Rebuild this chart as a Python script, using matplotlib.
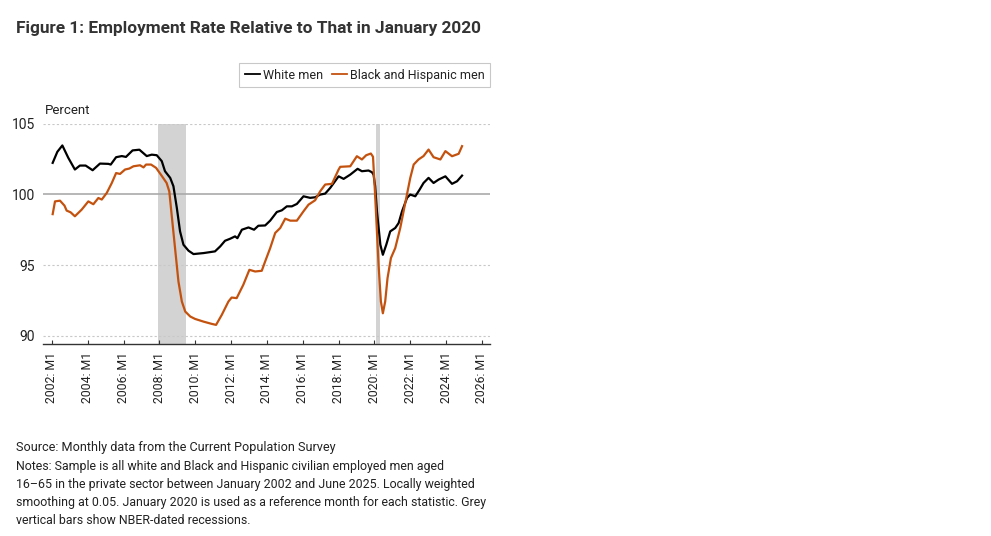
import matplotlib
matplotlib.use("Agg")
import matplotlib.pyplot as plt
from matplotlib.lines import Line2D

# ---------------- data ----------------
white_t = [2002.04, 2002.30, 2002.58, 2002.91, 2003.28, 2003.56, 2003.88, 2004.27, 2004.68,
           2005.15, 2005.28, 2005.58, 2005.90, 2006.13, 2006.50, 2006.88, 2007.29, 2007.57,
           2007.85, 2008.13, 2008.31, 2008.60, 2008.78, 2008.97, 2009.15, 2009.34, 2009.62,
           2009.90, 2010.46, 2011.10, 2011.39, 2011.66, 2011.94, 2012.22, 2012.35, 2012.60,
           2012.97, 2013.28, 2013.52, 2013.90, 2014.18, 2014.55, 2014.83, 2015.11, 2015.39,
           2015.67, 2016.04, 2016.41, 2016.69, 2016.97, 2017.25, 2017.53, 2018.00, 2018.28,
           2018.65, 2019.06, 2019.30, 2019.67, 2019.86, 2019.95, 2020.04, 2020.14, 2020.33,
           2020.47, 2020.66, 2020.88, 2021.16, 2021.35, 2021.54, 2021.82, 2022.00, 2022.28,
           2022.52, 2022.74, 2023.02, 2023.30, 2023.58, 2023.96, 2024.33, 2024.61, 2024.89]
white_v = [102.22, 103.00, 103.45, 102.58, 101.75, 102.03, 102.03, 101.70, 102.17,
           102.15, 102.10, 102.62, 102.70, 102.64, 103.10, 103.15, 102.70, 102.80,
           102.76, 102.34, 101.63, 101.16, 100.57, 99.04, 97.38, 96.44, 96.02,
           95.78, 95.85, 95.97, 96.32, 96.72, 96.86, 97.03, 96.90, 97.50,
           97.66, 97.50, 97.78, 97.80, 98.14, 98.75, 98.87, 99.15, 99.15,
           99.32, 99.86, 99.75, 99.79, 99.98, 100.05, 100.45, 101.27, 101.09,
           101.39, 101.80, 101.63, 101.68, 101.56, 101.39, 100.57, 98.80, 96.44,
           95.73, 96.44, 97.38, 97.62, 97.97, 98.80, 99.75, 99.98, 99.86,
           100.33, 100.80, 101.16, 100.80, 101.04, 101.27, 100.74, 100.92, 101.32]

bh_t = [2002.04, 2002.17, 2002.45, 2002.70, 2002.82, 2003.04, 2003.28, 2003.66, 2004.03,
        2004.31, 2004.59, 2004.78, 2005.06, 2005.34, 2005.58, 2005.80, 2006.08, 2006.32,
        2006.55, 2006.92, 2007.11, 2007.25, 2007.53, 2007.81, 2008.13, 2008.40, 2008.55,
        2008.68, 2008.87, 2009.06, 2009.25, 2009.44, 2009.72, 2009.99, 2010.46, 2010.92,
        2011.16, 2011.48, 2011.85, 2012.03, 2012.31, 2012.68, 2013.02, 2013.34, 2013.71,
        2013.90, 2014.18, 2014.46, 2014.74, 2015.02, 2015.30, 2015.67, 2016.04, 2016.32,
        2016.69, 2016.97, 2017.25, 2017.63, 2018.00, 2018.09, 2018.65, 2019.02, 2019.30,
        2019.54, 2019.80, 2019.92, 2020.04, 2020.23, 2020.36, 2020.47, 2020.60, 2020.73,
        2020.92, 2021.16, 2021.44, 2021.72, 2022.00, 2022.19, 2022.46, 2022.74, 2023.02,
        2023.30, 2023.68, 2023.96, 2024.33, 2024.70, 2024.89]
bh_v = [98.60, 99.50, 99.55, 99.20, 98.85, 98.73, 98.45, 98.92, 99.50,
        99.30, 99.74, 99.63, 100.10, 100.80, 101.50, 101.44, 101.75, 101.82,
        101.98, 102.05, 101.90, 102.10, 102.10, 101.87, 101.30, 100.80, 100.20,
        98.56, 96.20, 93.84, 92.43, 91.72, 91.37, 91.20, 91.01, 90.85,
        90.78, 91.49, 92.43, 92.71, 92.67, 93.61, 94.67, 94.55, 94.60,
        95.26, 96.20, 97.27, 97.62, 98.28, 98.14, 98.14, 98.80, 99.27,
        99.58, 100.21, 100.69, 100.74, 101.75, 101.94, 101.98, 102.69, 102.46,
        102.76, 102.88, 102.65, 99.90, 95.02, 92.43, 91.60, 92.43, 94.08,
        95.50, 96.20, 97.62, 99.39, 101.16, 102.10, 102.46, 102.70, 103.16,
        102.62, 102.46, 103.05, 102.69, 102.86, 103.40]

recessions = [(2007.92, 2009.50), (2020.08, 2020.33)]
tick_years = list(range(2002, 2027, 2))
tick_labels = [f"{y}: M1" for y in tick_years]
y_ticks = [90, 95, 100, 105]

# ---------------- style ----------------
FONT = ["Roboto", "DejaVu Sans"]
plt.rcParams["font.family"] = FONT
TXT = "#222222"
ORANGE = "#C4520F"

fig = plt.figure(figsize=(9.91, 5.36), dpi=100)
ax = fig.add_axes([43 / 991, 1 - 344 / 536, (490 - 43) / 991, (344 - 123.5) / 536])

for a, b in recessions:
    ax.axvspan(a, b, color="#d3d3d3", lw=0, zorder=0)

for yv in [90, 95, 105]:
    ax.axhline(yv, color="#c8c8c8", lw=0.8, ls=(0, (2, 2)), zorder=1)
ax.axhline(100, color="#aaaaaa", lw=1.2, zorder=1)

ax.plot(white_t, white_v, color="black", lw=1.6, zorder=3)
ax.plot(bh_t, bh_v, color=ORANGE, lw=1.6, zorder=3)

ax.set_xlim(2001.5, 2026.45)
ax.set_ylim(89.43, 105)
ax.set_xticks(tick_years)
ax.set_xticklabels(tick_labels, rotation=90, fontsize=8.8, color=TXT)
ax.set_yticks(y_ticks)
ax.set_yticklabels([str(v) for v in y_ticks], fontsize=10, color=TXT)
ax.tick_params(axis="x", direction="in", length=3, width=0.8, color="#333333", pad=6)
ax.tick_params(axis="y", length=0, pad=6)
for s in ["top", "right", "left"]:
    ax.spines[s].set_visible(False)
ax.spines["bottom"].set_color("#333333")
ax.spines["bottom"].set_linewidth(1.0)

fig.text(45 / 991, 1 - 110 / 536, "Percent", fontsize=9.5, color=TXT, va="center", ha="left")

fig.text(16 / 991, 1 - 28 / 536, "Figure 1: Employment Rate Relative to That in January 2020",
         fontsize=12.4, color="#333333", va="center", ha="left", fontweight="bold")

handles = [Line2D([], [], color="black", lw=1.3), Line2D([], [], color=ORANGE, lw=1.3)]
leg = fig.legend(handles, ["White men", "Black and Hispanic men"], ncol=2,
                 loc="upper right", bbox_to_anchor=(490 / 991, 1 - 63 / 536),
                 borderaxespad=0, frameon=True, fancybox=False, fontsize=9,
                 handlelength=1.2, handletextpad=0.25, columnspacing=0.7, borderpad=0.45)
leg.get_frame().set_edgecolor("#bbbbbb")
leg.get_frame().set_linewidth(0.8)
for t in leg.get_texts():
    t.set_color(TXT)

fig.text(16 / 991, 1 - 448 / 536, "Source: Monthly data from the Current Population Survey",
         fontsize=9.1, color=TXT, va="center", ha="left")
notes = ("Notes: Sample is all white and Black and Hispanic civilian employed men aged\n"
         "16\u201365 in the private sector between January 2002 and June 2025. Locally weighted\n"
         "smoothing at 0.05. January 2020 is used as a reference month for each statistic. Grey\n"
         "vertical bars show NBER-dated recessions.")
fig.text(16 / 991, 1 - 460 / 536, notes, fontsize=8.95, color=TXT, va="top", ha="left",
         linespacing=1.5)

fig.savefig("out.png", dpi=100)
